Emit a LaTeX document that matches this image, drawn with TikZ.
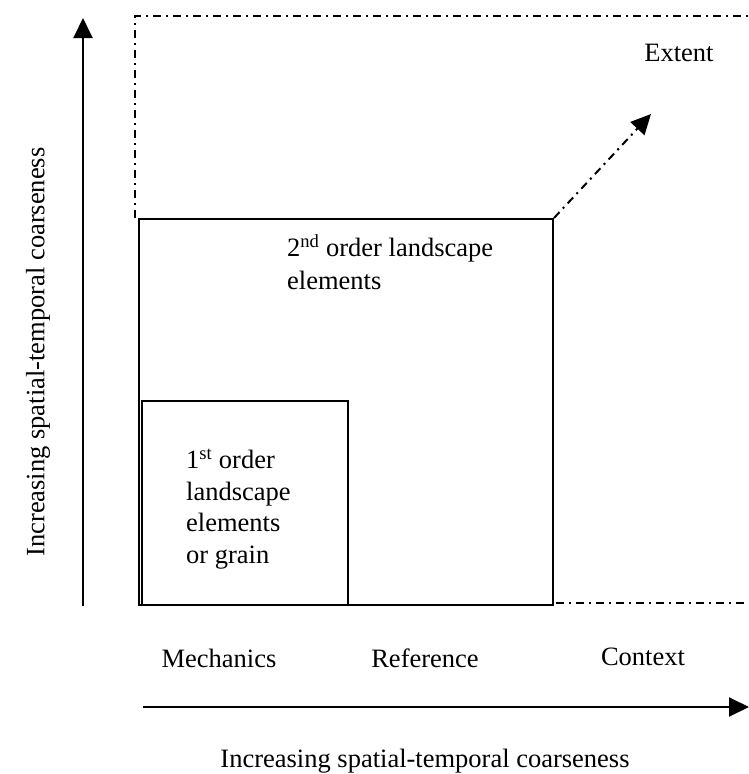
\documentclass[tikz,border=0pt]{standalone}
\usepackage{fontspec}
\setmainfont{Liberation Serif}
\usetikzlibrary{arrows.meta}
\begin{document}
\begin{tikzpicture}[x=1pt,y=-1pt,
  every node/.style={font=\fontsize{26.5}{31.5}\selectfont},
  solidline/.style={line width=2pt},
  dashdot/.style={line width=2pt, dash pattern=on 8pt off 5pt on 2pt off 5pt},
  axisarrow/.style={line width=2pt, -{Triangle[length=20pt,width=19pt]}},
  boxnode/.style={draw, line width=2pt, inner sep=0pt, anchor=north west}
]
\useasboundingbox (0,0) rectangle (749,774);
% boxes
\node[boxnode, minimum width=414pt, minimum height=386pt] (b2) at (138,218) {};
\node[boxnode, minimum width=206pt, minimum height=204pt] (b1) at (141,400) {};
% extent dash-dot outline
\coordinate (tl) at (135,16);
\coordinate (tr) at (749,16);
\coordinate (bl) at (135,218);
\coordinate (br) at (749,603);
\coordinate (bs) at (556,603);
\draw[dashdot] (bl) -- (tl) -- (tr);
\draw[dashdot] (bs) -- (br);
\coordinate (ext) at (651,114);
\draw[line width=2pt, dash pattern=on 8pt off 5pt on 2pt off 5pt, -{Triangle[length=20pt,width=19pt]}] (b2.north east) -- (ext);
% axes
\coordinate (ya) at (83,606);
\coordinate (yb) at (83,18);
\draw[axisarrow] (ya) -- (yb);
\coordinate (xa) at (143,707);
\coordinate (xb) at (749,707);
\draw[axisarrow] (xa) -- (xb);
% texts
\node[anchor=west, align=left, inner sep=0pt] (t1) at (186,509) {1\textsuperscript{st} order\\landscape\\elements\\or grain};
\node[anchor=west, align=left, inner sep=0pt, font=\fontsize{26.5}{33}\selectfont] (t2) at (287,262) {2\textsuperscript{nd} order landscape\\elements};
\node (ex) at (679,53) {Extent};
\node (me) at (219,658) {Mechanics};
\node (re) at (425,658) {Reference};
\node (co) at (643,657) {Context};
\node (xl) at (425,761) {Increasing spatial-temporal coarseness};
\node[rotate=90] (yl) at (38,352) {Increasing spatial-temporal coarseness};
\end{tikzpicture}
\end{document}
